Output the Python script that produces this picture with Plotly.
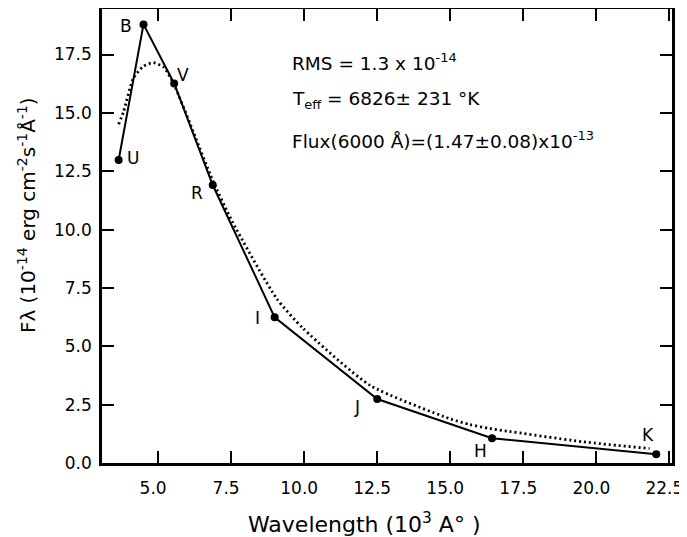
import plotly.graph_objects as go

# Observed photometry (solid line with dots)
bands = ["U", "B", "V", "R", "I", "J", "H", "K"]
wavelength = [3.65, 4.50, 5.55, 6.87, 8.99, 12.50, 16.43, 22.05]
flux = [12.98, 18.79, 16.26, 11.91, 6.24, 2.74, 1.06, 0.38]

# Fitted curve (dotted)
fit_wavelength = [3.65, 3.82, 4.16, 4.50, 4.84, 5.20, 5.55, 6.20, 6.87, 7.54, 9.05, 9.96, 12.25, 15.00, 15.66, 16.35, 19.54, 21.82]
fit_flux = [14.51, 15.06, 16.50, 17.00, 17.15, 16.95, 16.20, 14.20, 12.10, 10.34, 7.06, 5.77, 3.33, 1.89, 1.65, 1.48, 0.91, 0.62]

x_ticks = [5.0, 7.5, 10.0, 12.5, 15.0, 17.5, 20.0, 22.5]
y_ticks = [0.0, 2.5, 5.0, 7.5, 10.0, 12.5, 15.0, 17.5]

# label offsets (pixels) for band labels
label_dx = [14, -17, 9, -16, -17, -20, -12, -8]
label_dy = [2, -2, 8, -8, -1, -8, -13, 19]

FONT = "DejaVu Sans"

fig = go.Figure()
fig.add_trace(go.Scatter(
    x=fit_wavelength, y=fit_flux, mode="lines",
    line=dict(color="black", width=2.8, dash="2px,3px", shape="spline", smoothing=0.6),
    hoverinfo="skip", showlegend=False))
fig.add_trace(go.Scatter(
    x=wavelength, y=flux, mode="lines+markers",
    line=dict(color="black", width=2),
    marker=dict(color="black", size=8),
    showlegend=False))

annotations = []
for b, xv, yv, dx, dy in zip(bands, wavelength, flux, label_dx, label_dy):
    annotations.append(dict(x=xv, y=yv, xref="x", yref="y", text=b, showarrow=False,
                            xshift=dx, yshift=dy, font=dict(family=FONT, size=17, color="black")))

txt_font = dict(family=FONT, size=18.5, color="black")
annotations += [
    dict(x=0.33, y=0.884, xref="paper", yref="paper", xanchor="left", yanchor="middle",
         text="RMS = 1.3 x 10<sup>-14</sup>", showarrow=False, font=txt_font),
    dict(x=0.33, y=0.80, xref="paper", yref="paper", xanchor="left", yanchor="middle",
         text="T<sub>eff</sub> = 6826± 231 °K", showarrow=False, font=txt_font),
    dict(x=0.33, y=0.7115, xref="paper", yref="paper", xanchor="left", yanchor="middle",
         text="Flux(6000 Å)=(1.47±0.08)x10<sup>-13</sup>", showarrow=False, font=txt_font),
    dict(x=0.46, y=-0.132, xref="paper", yref="paper", xanchor="center", yanchor="middle",
         text="Wavelength (10<sup>3</sup> A° )", showarrow=False,
         font=dict(family=FONT, size=22, color="black")),
    dict(x=-0.1316, y=0.546, xref="paper", yref="paper", xanchor="center", yanchor="middle",
         textangle=-90,
         text="Fλ (10<sup>-14</sup> erg cm<sup>-2</sup>s<sup>-1</sup>Å<sup>-1</sup>)",
         showarrow=False, font=dict(family=FONT, size=20, color="black")),
]

axis_common = dict(showline=True, linecolor="black", linewidth=2.5, mirror="ticks",
                   ticks="inside", ticklen=12, tickwidth=2, tickcolor="black",
                   showgrid=False, zeroline=False, automargin=False,
                   tickfont=dict(family=FONT, size=17, color="black"))

fig.update_xaxes(range=[3.08, 22.59], tickvals=x_ticks, ticktext=[f"{v:.1f}" for v in x_ticks],
                 ticklabelstandoff=8, ticklabelshift=-5, ticklabeloverflow="allow", **axis_common)
fig.update_yaxes(range=[0.0, 19.45], tickvals=y_ticks, ticktext=[f"{v:.1f}" for v in y_ticks],
                 ticklabelstandoff=4, **axis_common)

# the page body has an 8px margin, so the figure is shrunk by 8px to fit the window
fig.update_layout(width=679, height=529,
                  margin=dict(l=94, r=15, t=1, b=74, autoexpand=False),
                  plot_bgcolor="white", paper_bgcolor="white",
                  annotations=annotations, font=dict(family=FONT, color="black"))

fig.write_html("out.html")
